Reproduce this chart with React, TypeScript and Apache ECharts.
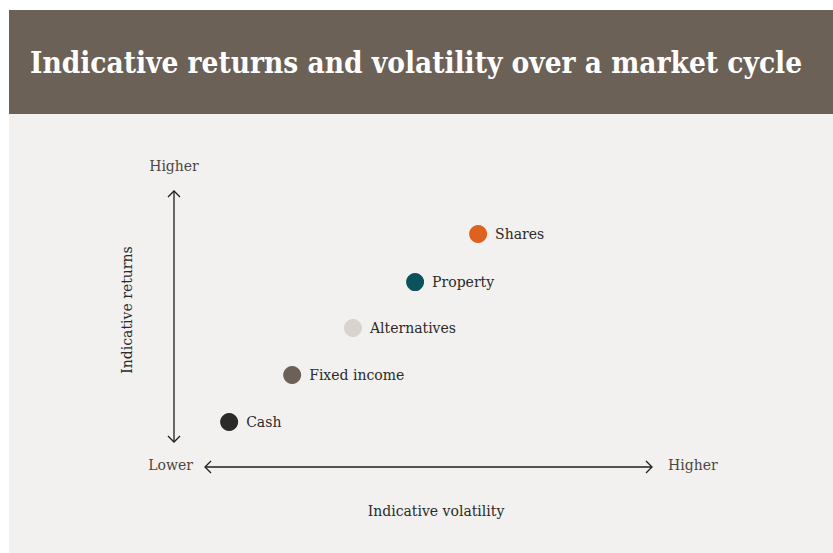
import React, { useEffect, useRef } from "react";
import * as echarts from "echarts";

const title = "Indicative returns and volatility over a market cycle";
const assets = ["Cash", "Fixed income", "Alternatives", "Property", "Shares"];
const volatility = [0.54, 1.95, 3.31, 4.7, 6.11];
const returns = [0.8, 2.67, 4.54, 6.37, 8.29];
const colors = ["#2b2a28", "#6b6158", "#d8d3cd", "#0b525c", "#de621e"];
const xAxisName = "Indicative volatility";
const yAxisName = "Indicative returns";
const lowLabel = "Lower";
const highLabel = "Higher";

const W = 824;
const H = 543;
const OX = 9;
const OY = 10;
const labelFont = "'DejaVu Serif', serif";
const textColor = "#2b2a28";

export default function App() {
  const ref = useRef<HTMLDivElement>(null);
  useEffect(() => {
    if (!ref.current) return;
    const chart = echarts.init(ref.current, null, { renderer: "svg" });
    const gx0 = 205 - OX, gx1 = 652 - OX, gy0 = 191 - OY, gy1 = 442 - OY;
    const vx = 174 - OX;
    const hy = 467 - OY;
    const ah = 6;
    const arrowStyle = { stroke: "#1f1e1c", lineWidth: 1.3, fill: null };
    chart.setOption({
      animation: false,
      backgroundColor: "#f2f1ef",
      grid: { left: gx0, right: W - gx1, top: gy0, bottom: H - gy1 },
      xAxis: {
        type: "value", min: 0, max: 10,
        axisLine: { show: false }, axisTick: { show: false }, axisLabel: { show: false }, splitLine: { show: false },
      },
      yAxis: {
        type: "value", min: 0, max: 10,
        axisLine: { show: false }, axisTick: { show: false }, axisLabel: { show: false }, splitLine: { show: false },
      },
      graphic: [
        { type: "rect", shape: { x: 0, y: 0, width: W, height: 104 }, style: { fill: "#6b6157" }, silent: true },
        {
          type: "text", x: 21, y: 52,
          style: { text: title, fill: "#ffffff", font: "bold 29.5px 'DejaVu Serif Condensed', 'DejaVu Serif', serif", textVerticalAlign: "middle", textAlign: "left" },
        },
        { type: "line", shape: { x1: vx, y1: gy0, x2: vx, y2: gy1 }, style: arrowStyle },
        { type: "polyline", shape: { points: [[vx - ah, gy0 + ah], [vx, gy0], [vx + ah, gy0 + ah]] }, style: arrowStyle },
        { type: "polyline", shape: { points: [[vx - ah, gy1 - ah], [vx, gy1], [vx + ah, gy1 - ah]] }, style: arrowStyle },
        { type: "line", shape: { x1: gx0, y1: hy, x2: gx1, y2: hy }, style: arrowStyle },
        { type: "polyline", shape: { points: [[gx0 + ah, hy - ah], [gx0, hy], [gx0 + ah, hy + ah]] }, style: arrowStyle },
        { type: "polyline", shape: { points: [[gx1 - ah, hy - ah], [gx1, hy], [gx1 - ah, hy + ah]] }, style: arrowStyle },
        { type: "text", x: vx, y: 166 - OY, style: { text: highLabel, fill: "#4a4744", font: `300 14px ${labelFont}`, textAlign: "center", textVerticalAlign: "middle" } },
        { type: "text", x: 193 - OX, y: 465 - OY, style: { text: lowLabel, fill: "#4a4744", font: `300 14px ${labelFont}`, textAlign: "right", textVerticalAlign: "middle" } },
        { type: "text", x: 668 - OX, y: 465 - OY, style: { text: highLabel, fill: "#4a4744", font: `300 14px ${labelFont}`, textAlign: "left", textVerticalAlign: "middle" } },
        { type: "text", x: 436 - OX, y: 511 - OY, style: { text: xAxisName, fill: textColor, font: `14px ${labelFont}`, textAlign: "center", textVerticalAlign: "middle" } },
        { type: "text", x: 127 - OX, y: 310 - OY, rotation: Math.PI / 2, style: { text: yAxisName, fill: textColor, font: `14px ${labelFont}`, textAlign: "center", textVerticalAlign: "middle" } },
      ],
      series: [
        {
          type: "scatter",
          symbolSize: 18,
          data: assets.map((name, i) => ({
            name,
            value: [volatility[i], returns[i]],
            itemStyle: { color: colors[i], opacity: 1 },
          })),
          label: {
            show: true, position: "right", distance: 8,
            formatter: (p: any) => p.name,
            color: textColor, fontFamily: labelFont, fontSize: 14,
          },
        },
      ],
    });
    return () => chart.dispose();
  }, []);
  return (
    <div
      ref={ref}
      style={{ position: "absolute", left: OX, top: OY, width: W, height: H }}
    />
  );
}
